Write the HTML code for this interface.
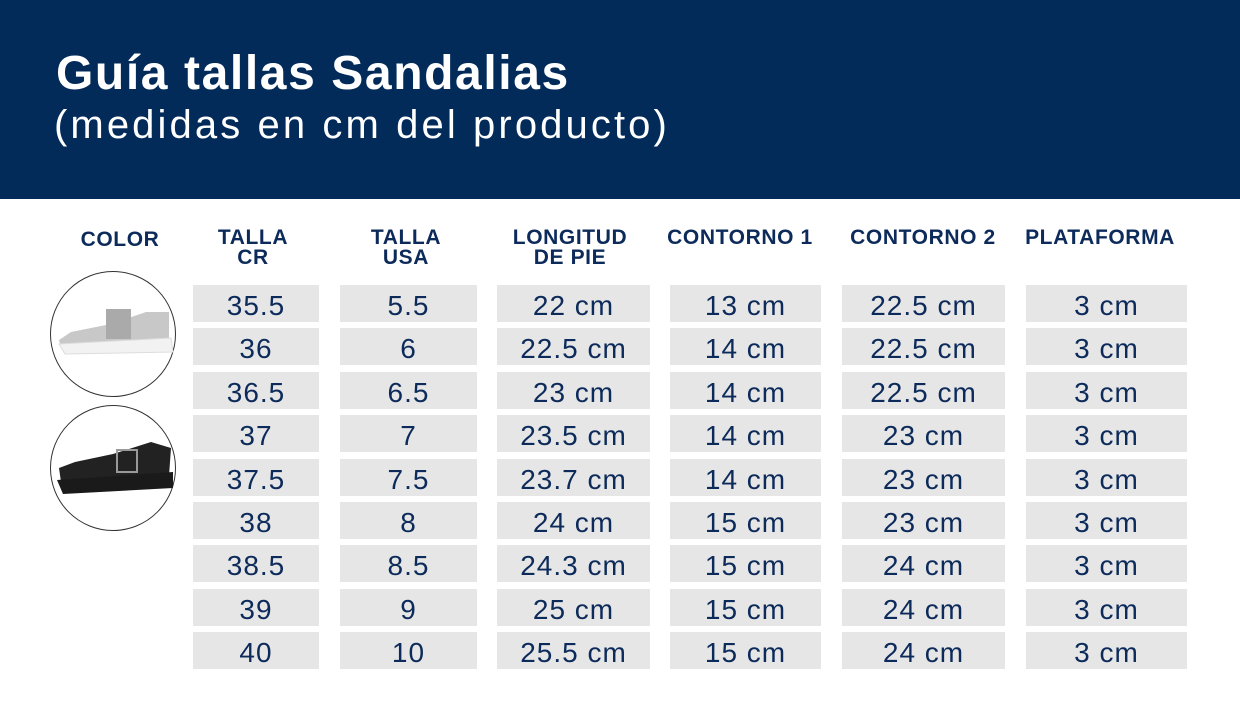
<!DOCTYPE html>
<html><head><meta charset="utf-8"><style>
*{margin:0;padding:0;box-sizing:border-box}
body{width:1240px;height:720px;background:#fff;position:relative;overflow:hidden;font-family:"Liberation Sans","DejaVu Sans",sans-serif;color:#0d2b5a}
.hdr{position:absolute;left:0;top:0;width:1240px;height:199px;background:#022b5a}
.t1{position:absolute;left:56px;top:46px;font-size:48px;font-weight:bold;color:#fff;letter-spacing:1.6px}
.t2{position:absolute;left:54px;top:103px;font-size:40px;color:#fff;letter-spacing:3.1px}
.h{position:absolute;font-weight:bold;font-size:21px;line-height:20px;text-align:center;color:#0d2b5a;letter-spacing:0.6px}
.c{position:absolute;height:37px;background:#e6e6e6;text-align:center;font-size:28px;line-height:41px;color:#0d2b5a;letter-spacing:1px}
.circ{position:absolute;width:126px;height:126px;border:1.3px solid #333;border-radius:50%;left:50px}
</style></head><body>
<div class="hdr"></div>
<div class="t1">Guía tallas Sandalias</div>
<div class="t2">(medidas en cm del producto)</div>
<div class="h" style="left:60px;width:120px;top:230px">COLOR</div>
<div class="h" style="left:193px;width:120px;top:228px">TALLA<br>CR</div>
<div class="h" style="left:346px;width:120px;top:228px">TALLA<br>USA</div>
<div class="h" style="left:495px;width:150px;top:228px">LONGITUD<br>DE PIE</div>
<div class="h" style="left:650px;width:180px;top:228px">CONTORNO 1</div>
<div class="h" style="left:833px;width:180px;top:228px">CONTORNO 2</div>
<div class="h" style="left:1010px;width:180px;top:228px">PLATAFORMA</div>
<div class="circ" style="top:271px">
<svg width="124" height="124" viewBox="0 0 124 124"><path d="M8 68 L20 60 L60 52 L95 40 L118 40 L118 70 L60 78 L10 76Z" fill="#c8c8c8"/><rect x="55" y="37" width="25" height="30" fill="#aaa"/><path d="M8 72 L120 66 L122 80 L14 82Z" fill="#f2f2f2" stroke="#ddd"/></svg></div>
<div class="circ" style="top:405px">
<svg width="124" height="124" viewBox="0 0 124 124"><path d="M8 62 L24 56 L62 48 L100 36 L120 42 L118 70 L60 78 L10 76Z" fill="#222"/><rect x="66" y="44" width="20" height="22" fill="none" stroke="#999" stroke-width="2"/><path d="M6 74 L122 66 L122 82 L12 88Z" fill="#1a1a1a"/></svg></div>
<div id="g"></div>
<script>
var cols=[[193,126],[340,137],[497,153],[670,151],[842,163],[1026,161]];
var d=[["35.5","5.5","22 cm","13 cm","22.5 cm","3 cm"],["36","6","22.5 cm","14 cm","22.5 cm","3 cm"],["36.5","6.5","23 cm","14 cm","22.5 cm","3 cm"],["37","7","23.5 cm","14 cm","23 cm","3 cm"],["37.5","7.5","23.7 cm","14 cm","23 cm","3 cm"],["38","8","24 cm","15 cm","23 cm","3 cm"],["38.5","8.5","24.3 cm","15 cm","24 cm","3 cm"],["39","9","25 cm","15 cm","24 cm","3 cm"],["40","10","25.5 cm","15 cm","24 cm","3 cm"]];
var h="";for(var r=0;r<9;r++){var y=285+r*43.4;for(var c=0;c<6;c++){h+='<div class="c" style="left:'+cols[c][0]+'px;width:'+cols[c][1]+'px;top:'+y+'px">'+d[r][c]+'</div>';}}
document.getElementById("g").innerHTML=h;
</script>
</body></html>
